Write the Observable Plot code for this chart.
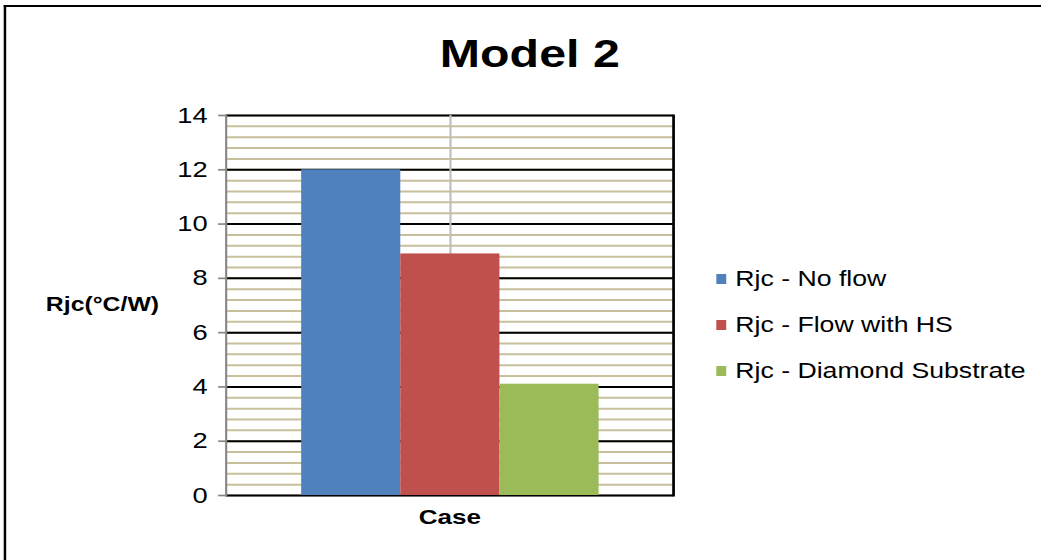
<!DOCTYPE html>
<html>
<head>
<meta charset="utf-8">
<script src="https://cdn.jsdelivr.net/npm/d3@7"></script>
<script src="https://cdn.jsdelivr.net/npm/@observablehq/plot@0.6"></script>
<style>
  html, body { margin: 0; padding: 0; background: #fff; overflow: hidden; }
  /* the whole chart is laid out at 840px wide and stretched to the 1041px window */
  #page {
    position: absolute; left: 0; top: 0; width: 840px; height: 560px;
    transform: scaleX(1.2393); transform-origin: 0 0;
    font-family: "Liberation Sans", Arial, sans-serif; color: #000;
  }
  #border {
    position: absolute; left: 3px; top: 5px; width: 900px; height: 700px;
    border-left: 2.4px solid #000; border-top: 2px solid #000;
  }
  #chart { position: absolute; left: 0; top: 0; }
  #title {
    position: absolute; left: 0; width: 855px; top: 34px; text-align: center;
    font-size: 39px; font-weight: bold; line-height: 1;
  }
  #ylabel {
    position: absolute; left: 37px; top: 294px; font-size: 20px; font-weight: bold; line-height: 1;
  }
  #xlabel {
    position: absolute; left: 263px; width: 200px; top: 506px; text-align: center;
    font-size: 21px; font-weight: bold; line-height: 1;
  }
  #legend { position: absolute; left: 578px; top: 256px; }
  .item { display: flex; align-items: center; height: 46px; font-size: 21.5px; white-space: nowrap; }
  .swatch { width: 8.1px; height: 10px; margin-right: 7.2px; }
</style>
</head>
<body>
<div id="page">
  <div id="border"></div>
  <div id="chart"></div>
  <div id="title">Model 2</div>
  <div id="ylabel">Rjc(°C/W)</div>
  <div id="xlabel"></div>
  <div id="legend"></div>
</div>
<script>
// Thermal resistance junction-to-case for each configuration
const category = "Case";
const series = ["Rjc - No flow", "Rjc - Flow with HS", "Rjc - Diamond Substrate"];
const values = [12.0, 8.9, 4.1];
const colors = ["#4F81BD", "#C0504D", "#9BBB59"];
const yTicks = [0, 2, 4, 6, 8, 10, 12, 14];
const minorStep = 0.4;

const data = series.map((s, i) => ({series: s, value: values[i]}));
const minorTicks = d3.range(0, 14 + 1e-9, minorStep);

const chart = Plot.plot({
  width: 840,
  height: 560,
  marginLeft: 182,
  marginRight: 297,
  marginTop: 115,
  marginBottom: 65,
  style: {fontFamily: '"Liberation Sans", Arial, sans-serif', color: "#000", background: "transparent"},
  x: {domain: series, paddingInner: 0, paddingOuter: 0.75, axis: null},
  y: {domain: [0, 14], axis: null},
  color: {domain: series, range: colors},
  marks: [
    Plot.ruleY(minorTicks, {stroke: "#C8BF9D", strokeWidth: 2}),
    Plot.ruleY(yTicks, {stroke: "#000", strokeWidth: 2}),
    Plot.ruleX([series[1]], {stroke: "#BDBDBD", strokeWidth: 1.7}),
    Plot.barY(data, {x: "series", y: "value", fill: "series"}),
    Plot.frame({anchor: "right", stroke: "#000", strokeWidth: 2.2}),
    Plot.frame({anchor: "left", stroke: "#868686", strokeWidth: 1.7}),
    Plot.axisY({ticks: yTicks, tickSize: 6, tickPadding: 9, stroke: "#868686", strokeWidth: 1.7,
                fontSize: 22, label: null, tickFormat: d => String(d)})
  ]
});
document.getElementById("chart").appendChild(chart);

document.getElementById("xlabel").textContent = category;

const legend = document.getElementById("legend");
series.forEach((s, i) => {
  const item = document.createElement("div");
  item.className = "item";
  const sw = document.createElement("div");
  sw.className = "swatch";
  sw.style.background = colors[i];
  const label = document.createElement("span");
  label.textContent = s;
  item.appendChild(sw);
  item.appendChild(label);
  legend.appendChild(item);
});
</script>
</body>
</html>
